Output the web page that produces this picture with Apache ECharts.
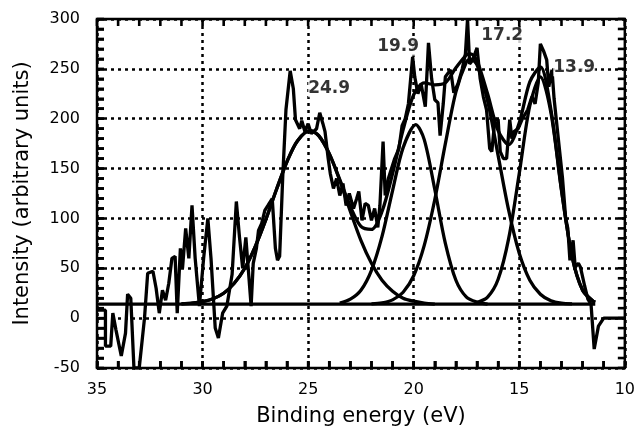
<!DOCTYPE html>
<html><head><meta charset="utf-8">
<script src="https://cdn.jsdelivr.net/npm/echarts@6/dist/echarts.min.js"></script>
<style>html,body{margin:0;padding:0;background:#fff}#c{width:638px;height:432px}</style>
</head><body><div id="c"></div>
<script>
// ---- data ----
const xTicks = [35, 30, 25, 20, 15, 10];
const yTicks = [-50, 0, 50, 100, 150, 200, 250, 300];
// small tick marks along the frame (every 1 eV and every 10 units)
const xMinorTicks = [35,34,33,32,31,30,29,28,27,26,25,24,23,22,21,20,19,18,17,16,15,14,13,12,11,10];
const yMinorTicks = [-50,-40,-30,-20,-10,0,10,20,30,40,50,60,70,80,90,100,110,120,130,140,150,
                     160,170,180,190,200,210,220,230,240,250,260,270,280,290,300];

// measured spectrum [binding energy eV, intensity]
const rawData = [
  [35.0,8],[34.6,8],[34.6,-28],[34.35,-28],[34.25,5],[34.1,-12],[33.85,-38],[33.65,-15],
  [33.55,24],[33.4,20],[33.25,-50],[33.0,-50],[32.85,-20],[32.75,0],[32.6,45],[32.35,47],
  [32.2,30],[32.05,5],[31.9,28],[31.75,18],[31.6,35],[31.45,60],[31.3,62],[31.2,5],
  [31.05,70],[30.95,50],[30.8,90],[30.65,60],[30.5,113],[30.35,60],[30.15,12],[29.95,60],
  [29.75,100],[29.6,60],[29.4,-10],[29.25,-20],[29.05,5],[28.85,12],[28.6,44],[28.4,117],
  [28.25,81],[28.1,50],[27.95,81],[27.8,40],[27.7,12],[27.6,55],[27.45,70],[27.35,88],
  [27.2,95],[27.05,108],[26.9,113],[26.7,120],[26.55,70],[26.45,58],[26.35,62],[26.2,143],
  [26.05,209],[25.85,248],[25.7,230],[25.6,199],[25.4,190],[25.3,198],[25.15,187],[25.0,195],
  [24.85,185],[24.6,190],[24.45,206],[24.3,195],[24.2,187],[24.05,160],[23.95,145],[23.8,130],
  [23.65,140],[23.5,123],[23.35,135],[23.2,113],[23.05,125],[22.85,110],[22.7,120],[22.6,127],
  [22.45,98],[22.3,115],[22.15,113],[22.0,98],[21.85,110],[21.7,91],[21.6,113],[21.45,177],
  [21.35,123],[21.2,140],[21.05,150],[20.9,160],[20.7,170],[20.55,193],[20.4,200],[20.25,215],
  [20.05,262],[19.95,242],[19.8,225],[19.65,235],[19.45,212],[19.3,276],[19.15,240],[19.0,219],
  [18.85,216],[18.75,183],[18.6,215],[18.5,242],[18.25,249],[18.1,226],[17.9,235],[17.7,250],
  [17.55,265],[17.45,300],[17.35,255],[17.2,259],[17.0,271],[16.85,240],[16.7,222],[16.55,209],
  [16.4,170],[16.3,167],[16.15,200],[16.0,199],[15.9,167],[15.75,160],[15.6,160],[15.45,199],
  [15.35,180],[15.25,187],[15.05,190],[14.85,200],[14.6,209],[14.4,222],[14.25,215],[14.1,236],
  [14.0,275],[13.85,268],[13.7,259],[13.6,232],[13.45,249],[13.35,220],[13.15,180],[12.95,140],
  [12.8,100],[12.7,90],[12.6,58],[12.45,78],[12.35,51],[12.2,55],[12.1,51],[11.9,32],
  [11.75,19],[11.6,14],[11.45,-31],[11.25,-8],[11.0,0],[10.0,0]
];

// fitted component peaks (on the background level)
const peak249 = [
  [31.0,14.4],[30.5,15],[30.0,16.5],[29.5,19.5],[29.0,25],[28.5,35],[28.0,50],[27.5,72],
  [27.0,99],[26.5,129],[26.0,157],[25.5,178],[24.9,188],[24.5,183],[24.0,165],[23.5,138],
  [23.0,107],[22.5,78],[22.0,55],[21.5,38],[21.0,27],[20.5,20],[20.0,17],[19.5,15],[19.0,14]
];
const peak199 = [
  [23.5,15],[23.0,19],[22.5,28],[22.0,48],[21.5,82],[21.0,128],[20.5,171],[19.9,194],
  [19.5,179],[19.0,129],[18.5,75],[18.0,38],[17.5,21],[17.0,16],[16.5,14]
];
const peak172 = [
  [22.0,14.4],[21.5,15.3],[21.0,18.3],[20.5,26],[20.0,42.5],[19.5,73],[19.0,119],[18.5,175],
  [18.0,227],[17.5,257],[17.3,260],[17.0,254],[16.5,218],[16.0,163],[15.5,108],[15.0,65],
  [14.5,38],[14.0,24],[13.5,17.4],[13.0,15],[12.5,14.3]
];
const peak139 = [
  [17.0,15.6],[16.5,21],[16.0,39],[15.5,80],[15.0,145],[14.5,213],[14.0,242],[13.5,206],
  [13.0,128],[12.5,62],[12.0,28],[11.5,17],[11.4,16]
];
const fitSum = [
  [31.0,14.4],[30.5,15],[30.0,16.5],[29.5,19.5],[29.0,25],[28.5,35],[28.0,50],[27.5,72],
  [27.0,99],[26.5,129],[26.0,157],[25.5,178],[24.9,188],[24.5,183],[24.0,165],[23.5,139],
  [23.0,112],[22.5,92],[22.0,89],[21.5,107],[21.0,145],[20.5,189],[20.0,224],[19.5,236],
  [19.0,234],[18.5,236],[18.0,251],[17.5,264],[17.3,265],[17.0,258],[16.5,225],[16.0,188],
  [15.5,174],[15.0,196],[14.5,237],[14.0,252],[13.5,209],[13.0,129],[12.5,62],[12.0,28],
  [11.5,17],[11.4,16]
];
const baseline = [[35.0,14],[11.4,14]];

// peak annotations: text and anchor (energy, intensity)
const labelText = ['24.9', '19.9', '17.2', '13.9'];
const labelE    = [25.0, 21.73, 16.8, 13.39];
const labelI    = [230, 272, 283, 251];

// ---- chart ----
const FONT = 'DejaVu Sans';
const chart = echarts.init(document.getElementById('c'));
const black = '#000';
const xMin = Math.min(...xTicks), xMax = Math.max(...xTicks);
const yMin = Math.min(...yTicks), yMax = Math.max(...yTicks);
const xStep = xTicks[0] - xTicks[1], yStep = yTicks[1] - yTicks[0];
const TL = 7, TW = 2.6;

const lineSeries = (data, extra) => Object.assign({
  type: 'line', data, showSymbol: false, symbol: 'none',
  lineStyle: {color: black, width: 3.3}, z: 3
}, extra);

// frame ticks drawn as small rectangular scatter symbols placed through the scales
function tickScatter(data, size, offset) {
  return {
    type: 'scatter', data, symbol: 'rect', symbolSize: size, symbolOffset: offset,
    clip: false, z: 20, itemStyle: {color: black, opacity: 1}
  };
}

chart.setOption({
  animation: false,
  grid: {left: 97, right: 10, top: 19, bottom: 59, show: true,
         borderColor: black, borderWidth: 2.5, backgroundColor: 'transparent'},
  xAxis: {
    type: 'value', inverse: true, min: xMin, max: xMax, interval: xStep,
    axisLine: {show: false, onZero: false},
    axisTick: {show: true, inside: true, length: TL, lineStyle: {color: black, width: TW}},
    minorTick: {show: true, splitNumber: 5, length: TL, lineStyle: {color: black, width: TW}},
    name: 'Binding energy (eV)', nameLocation: 'middle', nameGap: 38,
    nameTextStyle: {fontFamily: FONT, fontSize: 21, color: black},
    axisLabel: {fontFamily: FONT, fontSize: 16, color: black, margin: 14},
    splitLine: {show: true, lineStyle: {color: black, width: 2.5, type: [3, 4]}}
  },
  yAxis: {
    type: 'value', min: yMin, max: yMax, interval: yStep,
    axisLine: {show: false, onZero: false},
    axisTick: {show: true, inside: true, length: TL, lineStyle: {color: black, width: TW}},
    minorTick: {show: true, splitNumber: 5, length: TL, lineStyle: {color: black, width: TW}},
    name: 'Intensity (arbitrary units)', nameLocation: 'middle', nameGap: 64, nameRotate: 90,
    nameTextStyle: {fontFamily: FONT, fontSize: 21, color: black},
    axisLabel: {fontFamily: FONT, fontSize: 16, color: black, margin: 17},
    splitLine: {show: true, lineStyle: {color: black, width: 2.5, type: [3, 4]}}
  },
  series: [
    lineSeries(baseline),
    lineSeries(peak249, {smooth: 0.3}),
    lineSeries(peak199, {smooth: 0.3}),
    lineSeries(peak172, {smooth: 0.3}),
    lineSeries(peak139, {smooth: 0.3}),
    lineSeries(fitSum, {smooth: 0.3}),
    lineSeries(rawData),
    tickScatter(xMinorTicks.map(v => [v, yMin]), [TW, TL], [0, -TL / 2]),
    tickScatter(xMinorTicks.map(v => [v, yMax]), [TW, TL], [0, TL / 2]),
    tickScatter(yMinorTicks.map(v => [xMax, v]), [TL, TW], [TL / 2, 0]),
    tickScatter(yMinorTicks.map(v => [xMin, v]), [TL, TW], [-TL / 2, 0]),
    {
      type: 'scatter', symbolSize: 0, z: 10,
      data: labelText.map((t, i) => ({name: t, value: [labelE[i], labelI[i]]})),
      label: {
        show: true, position: 'right', distance: 0, formatter: '{b}',
        fontFamily: FONT, fontWeight: 'bold', fontSize: 17, color: black,
        backgroundColor: '#fff'
      }
    }
  ]
});
</script>
</body></html>
